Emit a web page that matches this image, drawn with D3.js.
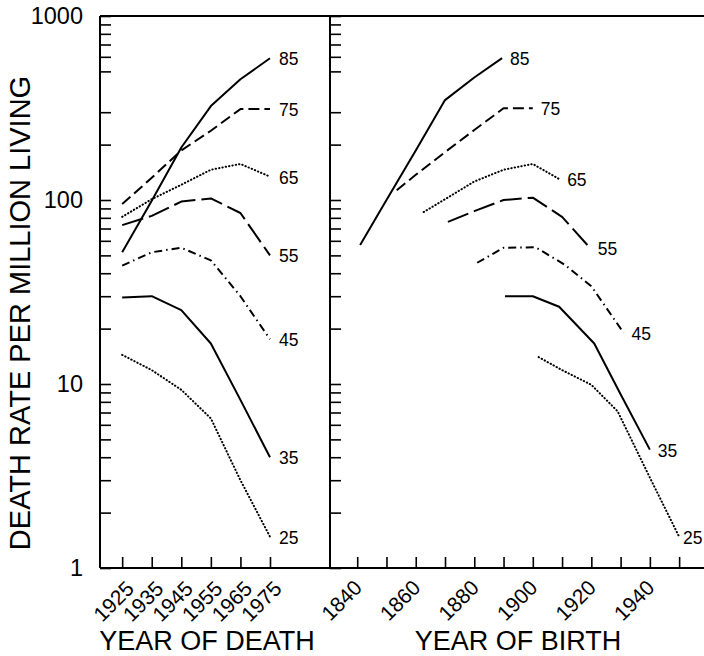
<!DOCTYPE html>
<html>
<head>
<meta charset="utf-8">
<script src="https://cdn.jsdelivr.net/npm/d3@7"></script>
<style>
  html, body { margin: 0; padding: 0; background: #fff; }
  svg { display: block; font-family: "Liberation Sans", Arial, Helvetica, sans-serif; }
</style>
</head>
<body>
<svg id="chart" width="704" height="656"></svg>
<script>
// ---------------- DATA ----------------
const ages = [25, 35, 45, 55, 65, 75, 85];
const deathYears = [1925, 1935, 1945, 1955, 1965, 1975];

// Death rate per million living, by year of death (left panel)
const death25 = [14.4, 11.9, 9.3, 6.5, 3.0, 1.48];
const death35 = [29.5, 30, 25.2, 16.6, 8.2, 4.0];
const death45 = [44, 52, 55, 47, 30, 17.5];
const death55 = [73, 82, 98, 102, 85, 50];
const death65 = [81, 101, 121, 146, 157, 134];
const death75 = [95, 132, 186, 238, 312, 312];
const death85 = [52, 99, 193, 324, 453, 589];

// Same cohorts by year of birth (right panel): [birth year, rate]
const birth25 = [[1902, 14], [1910, 11.9], [1920, 9.9], [1929, 7.1], [1940, 3.1], [1950, 1.48]];
const birth35 = [[1890.5, 30], [1900, 30], [1909, 26.3], [1921, 16.6], [1930, 8.8], [1940, 4.4]];
const birth45 = [[1881, 45.6], [1890, 55], [1901, 55.3], [1911, 44.4], [1920, 34], [1931, 19]];
const birth55 = [[1871, 76], [1880, 87], [1890, 100], [1900, 103], [1910, 81], [1919.5, 55]];
const birth65 = [[1862.7, 86], [1870, 101], [1880, 126], [1890, 146], [1900, 157], [1909, 130]];
const birth75 = [[1853.5, 113], [1860, 137], [1870, 182], [1880, 240], [1890, 315], [1900, 315]];
const birth85 = [[1841, 57], [1850, 100], [1860, 186], [1870, 349], [1880, 463], [1889.5, 590]];

const yTickValues = [1, 2, 3, 4, 5, 6, 7, 8, 9, 10, 20, 30, 40, 50, 60, 70, 80, 90, 100,
                     200, 300, 500, 600, 700, 800, 900, 1000];
const yTickLabels = [1, 10, 100, 1000];
const leftXTicks = [1925, 1935, 1945, 1955, 1965, 1975];
const rightXTicks = [1840, 1850, 1860, 1870, 1880, 1890, 1900, 1910, 1920, 1930, 1940, 1950];
const rightXLabels = [1840, 1860, 1880, 1900, 1920, 1940];

// styles per age
const styles = {
  25: { dash: "0.4,3", cap: "round", w: 2 },
  35: { dash: null, cap: "butt", w: 2 },
  45: { dash: "8,4,1.5,4", cap: "butt", w: 2 },
  55: { dash: "22,6", cap: "butt", w: 2 },
  65: { dash: "0.4,3", cap: "round", w: 2 },
  75: { dash: "11,5", cap: "butt", w: 2 },
  85: { dash: null, cap: "butt", w: 2 }
};

// ---------------- LAYOUT ----------------
const svg = d3.select("#chart");
const pTop = 16, pBottom = 568, pLeft = 100, pMid = 330, pRight = 704;

const y = d3.scaleLog().domain([1, 1000]).range([pBottom, pTop]);
const xL = d3.scaleLinear().domain([1917.5, 1995.3]).range([pLeft, pMid]);
const xR = d3.scaleLinear().domain([1830.7, 1958.5]).range([pMid, pRight]);

const leftSeries = {25: death25, 35: death35, 45: death45, 55: death55, 65: death65, 75: death75, 85: death85};
const rightSeries = {25: birth25, 35: birth35, 45: birth45, 55: birth55, 65: birth65, 75: birth75, 85: birth85};

// ---------------- AXES ----------------
const yFmt = d => yTickLabels.includes(d) ? String(d) : "";

const gYL = svg.append("g").attr("transform", `translate(${pLeft},0)`)
  .call(d3.axisLeft(y).tickValues(yTickValues).tickFormat(yFmt)
        .tickSizeInner(-11).tickSizeOuter(0).tickPadding(17));
gYL.selectAll("text").attr("font-size", 23.5).attr("fill", "#000")
   .attr("font-family", "'Liberation Sans', Arial, sans-serif");

const gYR = svg.append("g").attr("transform", `translate(${pMid},0)`)
  .call(d3.axisRight(y).tickValues(yTickValues).tickFormat("")
        .tickSizeInner(11).tickSizeOuter(0));

const gXL = svg.append("g").attr("transform", `translate(0,${pBottom})`)
  .call(d3.axisBottom(xL).tickValues(leftXTicks).tickFormat("")
        .tickSizeInner(-11).tickSizeOuter(0));
const gXR = svg.append("g").attr("transform", `translate(0,${pBottom})`)
  .call(d3.axisBottom(xR).tickValues(rightXTicks).tickFormat("")
        .tickSizeInner(-11).tickSizeOuter(0));

[gYL, gYR, gXL, gXR].forEach(g => {
  g.select(".domain").remove();
  g.selectAll(".tick line").attr("stroke", "#000").attr("stroke-width", 1.6);
});

// frame
const frame = svg.append("g").attr("stroke", "#000").attr("stroke-width", 2).attr("fill", "none");
frame.append("line").attr("x1", pLeft).attr("x2", pRight).attr("y1", pTop).attr("y2", pTop);
frame.append("line").attr("x1", pLeft).attr("x2", pRight).attr("y1", pBottom).attr("y2", pBottom);
frame.append("line").attr("x1", pLeft).attr("x2", pLeft).attr("y1", pTop).attr("y2", pBottom);
frame.append("line").attr("x1", pMid).attr("x2", pMid).attr("y1", pTop).attr("y2", pBottom);

// rotated x tick labels
const xLabelSize = 21;
svg.append("g").selectAll("text").data(leftXTicks).join("text")
  .attr("transform", d => `translate(${xL(d) + 13},${pBottom + 22}) rotate(-45)`)
  .attr("text-anchor", "end").attr("font-size", xLabelSize).text(d => d);
svg.append("g").selectAll("text").data(rightXLabels).join("text")
  .attr("transform", d => `translate(${xR(d) + 6},${pBottom + 21}) rotate(-45)`)
  .attr("text-anchor", "end").attr("font-size", xLabelSize).text(d => d);

// axis titles
svg.append("text").attr("x", 207).attr("y", 650).attr("text-anchor", "middle")
  .attr("font-size", 27).text("YEAR OF DEATH");
svg.append("text").attr("x", 518).attr("y", 650).attr("text-anchor", "middle")
  .attr("font-size", 27).text("YEAR OF BIRTH");
svg.append("text").attr("transform", "translate(30,313) rotate(-90)")
  .attr("text-anchor", "middle").attr("font-size", 29).text("DEATH RATE PER MILLION LIVING");

// ---------------- LINES ----------------
const lineL = d3.line().x((d, i) => xL(deathYears[i])).y(d => y(d));
const lineR = d3.line().x(d => xR(d[0])).y(d => y(d[1]));

const gLines = svg.append("g").attr("fill", "none").attr("stroke", "#000");
ages.forEach(a => {
  const s = styles[a];
  const pl = gLines.append("path").attr("d", lineL(leftSeries[a]))
    .attr("stroke-width", s.w).attr("stroke-linecap", s.cap).attr("stroke-linejoin", "round");
  const pr = gLines.append("path").attr("d", lineR(rightSeries[a]))
    .attr("stroke-width", s.w).attr("stroke-linecap", s.cap).attr("stroke-linejoin", "round");
  if (s.dash) { pl.attr("stroke-dasharray", s.dash); pr.attr("stroke-dasharray", s.dash); }
});

// line end labels
const gLab = svg.append("g").attr("font-size", 17.5);
ages.forEach(a => {
  const vL = leftSeries[a];
  gLab.append("text").attr("x", xL(deathYears[deathYears.length - 1]) + 9)
    .attr("y", y(vL[vL.length - 1]) + 7).text(a);
  const vR = rightSeries[a];
  const last = vR[vR.length - 1];
  gLab.append("text").attr("x", Math.min(xR(last[0]) + 8, 683)).attr("y", y(last[1]) + 7).text(a);
});
</script>
</body>
</html>
